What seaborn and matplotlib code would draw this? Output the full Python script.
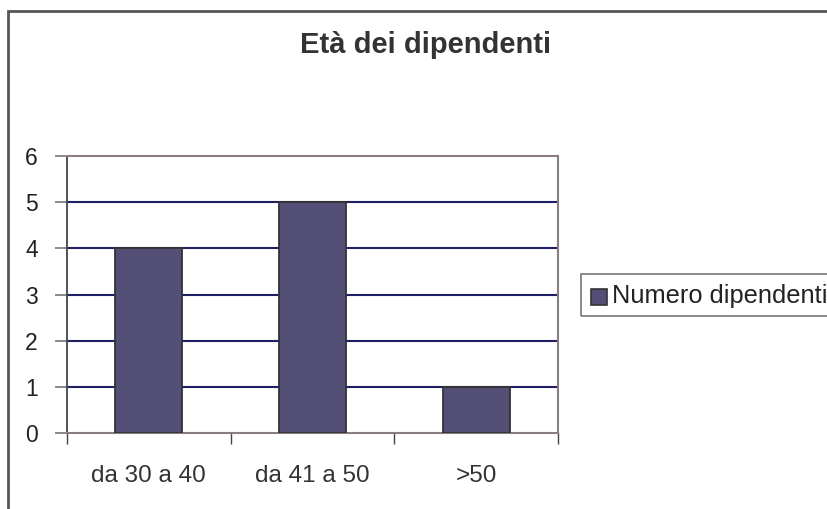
import pandas as pd
import matplotlib
matplotlib.use('Agg')
import matplotlib.pyplot as plt
import seaborn as sns
from matplotlib.patches import Rectangle

# 데이터
categorie = ["da 30 a 40", "da 41 a 50", ">50"]
numero_dipendenti = [4, 5, 1]
titolo = "Età dei dipendenti"
serie = "Numero dipendenti"

df = pd.DataFrame({"Età": categorie, serie: numero_dipendenti})

sns.set_theme(style="white")
plt.rcParams['font.family'] = ['Liberation Sans', 'DejaVu Sans']

fig = plt.figure(figsize=(8.28, 5.09), dpi=100)
ax = fig.add_axes([67 / 828, 76 / 509, 491 / 828, 277 / 509])

bar_col = '#544f77'
sns.barplot(data=df, x="Età", y=serie, color=bar_col, width=0.41,
            edgecolor='#333333', linewidth=1.3, saturation=1, ax=ax, zorder=3)

ax.set_xlim(-0.5, 2.5)
ax.set_ylim(0, 6)
ax.set_yticks(range(0, 7))
ax.set_xlabel("")
ax.set_ylabel("")

# griglia
for v in range(1, 6):
    ax.axhline(v, color='#1f1f66', lw=1.5, zorder=1)

for s in ['top', 'right', 'bottom']:
    ax.spines[s].set_color('#8a7f7f')
    ax.spines[s].set_linewidth(1.5)
ax.spines['left'].set_color('#444444')
ax.spines['left'].set_linewidth(1.3)

ax.tick_params(axis='y', direction='out', length=9, width=1.2, color='#777777',
               labelsize=16.5, pad=12, left=True, labelcolor='#222222')
ax.tick_params(axis='x', which='major', length=0, labelsize=17.5, pad=23,
               labelcolor='#333333')
ax.set_xticks([-0.5, 0.5, 1.5, 2.5], minor=True)
ax.tick_params(axis='x', which='minor', direction='out', length=8, width=1.0,
               color='#444444', bottom=True)

fig.text(426 / 828, 1 - 45 / 509, titolo, ha='center', va='center',
         fontsize=21, fontweight='bold', color='#333333')

# legenda
fig.patches.append(Rectangle((581 / 828, 1 - 316 / 509), 260 / 828, 42 / 509,
                             transform=fig.transFigure, fill=False,
                             edgecolor='#777777', lw=1.2))
fig.patches.append(Rectangle((591 / 828, 1 - 305 / 509), 16 / 828, 16 / 509,
                             transform=fig.transFigure, facecolor=bar_col,
                             edgecolor='#333333', lw=1.2))
fig.text(612 / 828, 1 - 296 / 509, serie, ha='left', va='center',
         fontsize=18.3, color='#222222')

# bordo esterno
fig.patches.append(Rectangle((8 / 828, -0.1), 830 / 828, 1.1 - 11 / 509,
                             transform=fig.transFigure, fill=False,
                             edgecolor='#555555', lw=2))

fig.savefig("out.png", dpi=100)
